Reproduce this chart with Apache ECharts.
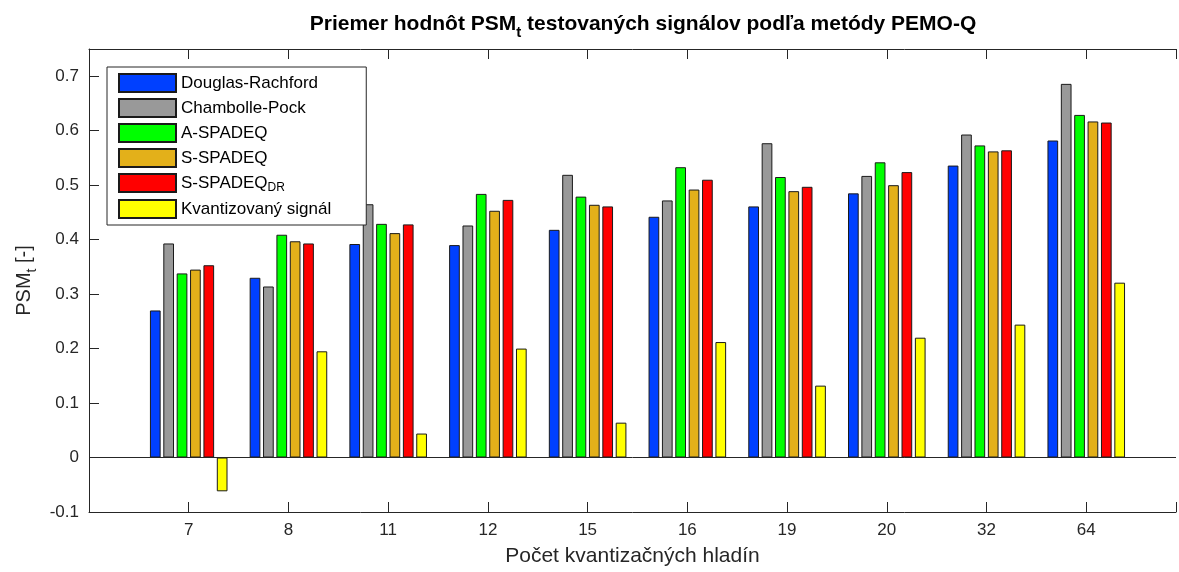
<!DOCTYPE html>
<html>
<head>
<meta charset="utf-8">
<script src="https://cdn.jsdelivr.net/npm/echarts@6/dist/echarts.min.js"></script>
<style>html,body{margin:0;padding:0;background:#fff;}#chart{width:1179px;height:572px;}</style>
</head>
<body>
<div id="chart"></div>
<script>
const categories = ['7', '8', '11', '12', '15', '16', '19', '20', '32', '64'];
const seriesNames = ['Douglas-Rachford', 'Chambolle-Pock', 'A-SPADEQ', 'S-SPADEQ', 'S-SPADEQ_DR', 'Kvantizovaný signál'];
const douglasRachford = [0.270, 0.330, 0.392, 0.390, 0.418, 0.442, 0.461, 0.485, 0.536, 0.582];
const chambollePock   = [0.393, 0.314, 0.465, 0.426, 0.519, 0.472, 0.577, 0.517, 0.593, 0.686];
const aSpadeq         = [0.338, 0.409, 0.429, 0.484, 0.479, 0.533, 0.515, 0.542, 0.573, 0.629];
const sSpadeq         = [0.345, 0.397, 0.412, 0.453, 0.464, 0.492, 0.489, 0.500, 0.562, 0.617];
const sSpadeqDR       = [0.353, 0.393, 0.428, 0.473, 0.461, 0.510, 0.497, 0.524, 0.564, 0.615];
const kvantizovany    = [-0.062, 0.195, 0.044, 0.200, 0.064, 0.212, 0.132, 0.220, 0.244, 0.321];
const yTicks = [-0.1, 0, 0.1, 0.2, 0.3, 0.4, 0.5, 0.6, 0.7];

const allValues = [douglasRachford, chambollePock, aSpadeq, sSpadeq, sSpadeqDR, kvantizovany];
const colors = ['#0040ff', '#999999', '#00ff00', '#e3b01a', '#ff0000', '#ffff00'];
const FONT = 'Liberation Sans';
const axisColor = '#262626';

const chart = echarts.init(document.getElementById('chart'));

const series = allValues.map((vals, si) => ({
  name: seriesNames[si],
  type: 'bar',
  xAxisIndex: 0,
  yAxisIndex: 0,
  barWidth: 10.7,
  barGap: '25%',
  data: vals.map((v, i) => [i + 1, v]),
  itemStyle: { color: colors[si], borderColor: '#1a1a1a', borderWidth: 1 },
  emphasis: { disabled: true },
  animation: false
}));
series[0].markLine = {
  silent: true,
  symbol: 'none',
  label: { show: false },
  lineStyle: { color: axisColor, width: 1, type: 'solid' },
  data: [{ yAxis: 0 }],
  animation: false
};

const xCommon = {
  type: 'value', min: 0, max: 10.9, interval: 1,
  axisLine: { show: true, onZero: false, lineStyle: { color: axisColor, width: 1 } },
  axisTick: { show: true, inside: true, length: 10, lineStyle: { color: axisColor } },
  splitLine: { show: false }
};
const yCommon = {
  type: 'value', min: -0.1, max: 0.75, interval: 0.1,
  axisLine: { show: true, onZero: false, lineStyle: { color: axisColor, width: 1 } },
  axisTick: { show: true, inside: true, length: 10, lineStyle: { color: axisColor } },
  splitLine: { show: false }
};

chart.setOption({
  animation: false,
  backgroundColor: '#ffffff',
  textStyle: { fontFamily: FONT },
  title: {
    text: 'Priemer hodnôt PSM{sub|t} testovaných signálov podľa metódy PEMO-Q',
    left: 638, textAlign: 'center', top: 3,
    textStyle: {
      fontFamily: FONT, fontSize: 21, fontWeight: 'bold', color: '#000',
      rich: {
        sub: { fontFamily: FONT, fontSize: 15, fontWeight: 'bold', color: '#000', padding: [17, 0, 0, 0] }
      }
    }
  },
  grid: { left: 89, top: 49, right: 0, height: 463, containLabel: false },
  legend: {
    orient: 'vertical', left: 107, top: 67,
    backgroundColor: '#ffffff', borderColor: axisColor, borderWidth: 1,
    padding: [6, 35, 6, 11],
    itemWidth: 57, itemHeight: 18, itemGap: 5,
    icon: 'rect',
    data: seriesNames,
    formatter: name => name === 'S-SPADEQ_DR' ? 'S-SPADEQ{sub|DR}' : name,
    textStyle: {
      fontFamily: FONT, fontSize: 17, color: '#000',
      rich: { sub: { fontFamily: FONT, fontSize: 12, color: '#000', padding: [10, 0, 0, 0] } }
    }
  },
  xAxis: [
    Object.assign({}, xCommon, {
      position: 'bottom',
      name: 'Počet kvantizačných hladín',
      nameLocation: 'middle', nameGap: 34,
      nameTextStyle: { fontFamily: FONT, fontSize: 21, color: '#262626' },
      axisLabel: {
        show: true, margin: 10, fontFamily: FONT, fontSize: 17, color: '#262626',
        formatter: v => (v >= 1 && v <= categories.length && Number.isInteger(v)) ? categories[v - 1] : ''
      }
    }),
    Object.assign({}, xCommon, { position: 'top', axisLabel: { show: false } })
  ],
  yAxis: [
    Object.assign({}, yCommon, {
      position: 'left',
      name: 'PSM{sub|t} [-]',
      nameLocation: 'middle', nameRotate: 90, nameGap: 44,
      nameTextStyle: {
        fontFamily: FONT, fontSize: 20, color: '#262626',
        rich: { sub: { fontFamily: FONT, fontSize: 14, color: '#262626', padding: [14, 0, 0, 0] } }
      },
      axisLabel: {
        show: true, margin: 10, fontFamily: FONT, fontSize: 17, color: '#262626',
        showMaxLabel: false,
        formatter: v => {
          const r = Math.round(v * 100) / 100;
          return yTicks.some(t => Math.abs(t - r) < 1e-9) ? (Math.abs(r) < 1e-9 ? '0' : String(r)) : '';
        }
      }
    }),
    Object.assign({}, yCommon, { position: 'right', axisLine: { show: false, onZero: false }, axisTick: { show: false }, axisLabel: { show: false } })
  ],
  series: series
});
</script>
</body>
</html>
